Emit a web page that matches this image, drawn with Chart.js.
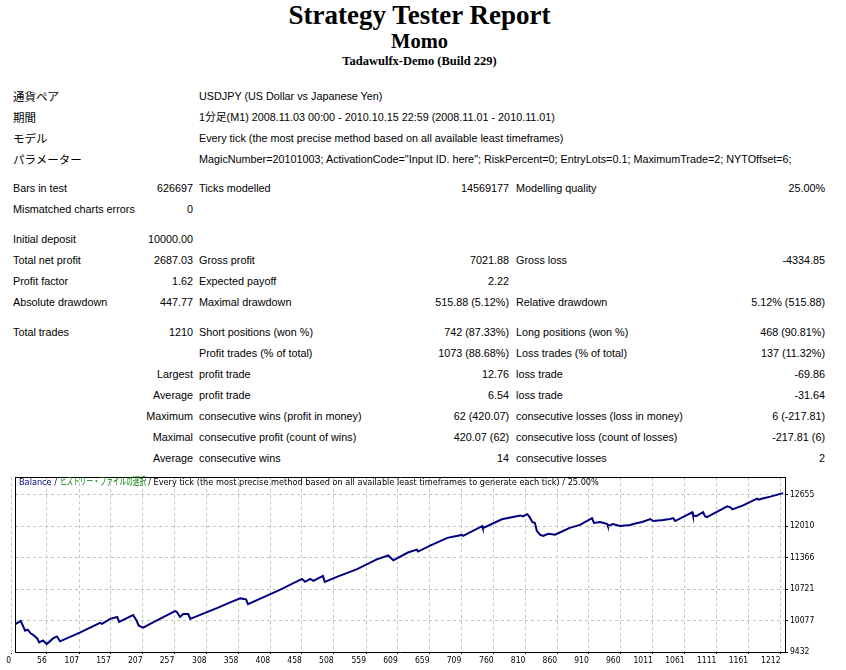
<!DOCTYPE html>
<html>
<head>
<meta charset="utf-8">
<title>Strategy Tester: Momo</title>
<script src="https://cdn.jsdelivr.net/npm/chart.js@4.4.1/dist/chart.umd.min.js"></script>
<style>
body { margin:0; background:#fff; width:846px; height:670px; overflow:hidden; position:relative;
  font-family:'Liberation Sans', Arial, 'Noto Sans CJK JP', sans-serif; font-size:10.8px; color:#000; }
.head { position:absolute; left:0; width:839px; text-align:center; font-family:'Liberation Serif', 'Times New Roman', serif; font-weight:bold; white-space:nowrap; }
table.report { position:absolute; left:13px; top:85.5px; border-collapse:collapse; table-layout:fixed; width:812px; }
table.report td { padding:0; height:21px; line-height:21px; white-space:nowrap; overflow:visible; }
table.report tr.gap td { line-height:0; font-size:0; }
td.r { text-align:right; }
td.l3 { padding-left:6px !important; }
td.l5 { padding-left:7px !important; }
.jp { font-family:'Noto Sans CJK JP', sans-serif; font-size:11.5px; }
#box { position:absolute; left:0; top:470px; width:846px; height:200px; }
#hdr { position:absolute; left:19px; top:475px; font-size:9.1px; line-height:12px; white-space:nowrap;
  font-family:'DejaVu Sans Condensed', 'Liberation Sans', sans-serif; color:#000; }
#hdr .bal { color:#000080; }
#hdr .hist { color:#008000; display:inline-block; transform-origin:0 50%; font-family:'Noto Sans CJK JP', sans-serif; font-size:10px; }
</style>
</head>
<body>

<div class="head" style="top:0; font-size:27px; line-height:30px;">Strategy Tester Report</div>
<div class="head" style="top:29px; font-size:20.5px; line-height:24px;">Momo</div>
<div class="head" style="top:53px; font-size:12.5px; line-height:16px;">Tadawulfx-Demo (Build 229)</div>

<table class="report">
<colgroup><col style="width:127px"><col style="width:53px"><col style="width:200px"><col style="width:116px"><col style="width:200px"><col style="width:116px"></colgroup>
<tr><td colspan="2" class="jp">通貨ペア</td><td colspan="4" class="l3">USDJPY (US Dollar vs Japanese Yen)</td></tr>
<tr><td colspan="2" class="jp">期間</td><td colspan="4" class="l3">1分足(M1) 2008.11.03 00:00 - 2010.10.15 22:59 (2008.11.01 - 2010.11.01)</td></tr>
<tr><td colspan="2" class="jp">モデル</td><td colspan="4" class="l3">Every tick (the most precise method based on all available least timeframes)</td></tr>
<tr><td colspan="2" class="jp">パラメーター</td><td colspan="4" class="l3">MagicNumber=20101003; ActivationCode="Input ID. here"; RiskPercent=0; EntryLots=0.1; MaximumTrade=2; NYTOffset=6;</td></tr>
<tr class="gap"><td colspan="6" style="height:8px"></td></tr>
<tr><td>Bars in test</td><td class="r">626697</td><td class="l3">Ticks modelled</td><td class="r">14569177</td><td class="l5">Modelling quality</td><td class="r">25.00%</td></tr>
<tr><td>Mismatched charts errors</td><td class="r">0</td><td></td><td></td><td></td><td></td></tr>
<tr class="gap"><td colspan="6" style="height:9px"></td></tr>
<tr><td>Initial deposit</td><td class="r">10000.00</td><td></td><td></td><td></td><td></td></tr>
<tr><td>Total net profit</td><td class="r">2687.03</td><td class="l3">Gross profit</td><td class="r">7021.88</td><td class="l5">Gross loss</td><td class="r">-4334.85</td></tr>
<tr><td>Profit factor</td><td class="r">1.62</td><td class="l3">Expected payoff</td><td class="r">2.22</td><td></td><td></td></tr>
<tr><td>Absolute drawdown</td><td class="r">447.77</td><td class="l3">Maximal drawdown</td><td class="r">515.88 (5.12%)</td><td class="l5">Relative drawdown</td><td class="r">5.12% (515.88)</td></tr>
<tr class="gap"><td colspan="6" style="height:9px"></td></tr>
<tr><td>Total trades</td><td class="r">1210</td><td class="l3">Short positions (won %)</td><td class="r">742 (87.33%)</td><td class="l5">Long positions (won %)</td><td class="r">468 (90.81%)</td></tr>
<tr><td colspan="2"></td><td class="l3">Profit trades (% of total)</td><td class="r">1073 (88.68%)</td><td class="l5">Loss trades (% of total)</td><td class="r">137 (11.32%)</td></tr>
<tr><td colspan="2" class="r">Largest</td><td class="l3">profit trade</td><td class="r">12.76</td><td class="l5">loss trade</td><td class="r">-69.86</td></tr>
<tr><td colspan="2" class="r">Average</td><td class="l3">profit trade</td><td class="r">6.54</td><td class="l5">loss trade</td><td class="r">-31.64</td></tr>
<tr><td colspan="2" class="r">Maximum</td><td class="l3">consecutive wins (profit in money)</td><td class="r">62 (420.07)</td><td class="l5">consecutive losses (loss in money)</td><td class="r">6 (-217.81)</td></tr>
<tr><td colspan="2" class="r">Maximal</td><td class="l3">consecutive profit (count of wins)</td><td class="r">420.07 (62)</td><td class="l5">consecutive loss (count of losses)</td><td class="r">-217.81 (6)</td></tr>
<tr><td colspan="2" class="r">Average</td><td class="l3">consecutive wins</td><td class="r">14</td><td class="l5">consecutive losses</td><td class="r">2</td></tr>
</table>

<div id="box"><canvas id="balanceChart" width="846" height="200"></canvas></div>
<div id="hdr"><span class="bal">Balance</span> / <span class="hist" id="hist">ヒストリー・ファイルの選択</span> / Every tick (the most precise method based on all available least timeframes to generate each tick) / 25.00%</div>

<script>
// trade number (as read against the axis labels) and balance after it
const tradeNo = [6, 15, 22, 26, 31, 34, 41, 44, 50, 56, 66, 72, 77, 108, 140, 143, 156, 167, 170, 192,
	197, 201, 208, 219, 258, 261, 266, 271, 279, 282, 286, 324, 345, 361, 370, 373, 424, 458, 463, 471,
	476, 491, 494, 513, 545, 576, 594, 602, 625, 639, 641, 660, 687, 710, 712, 742, 743, 773, 802, 806,
	813, 816, 821, 825, 828, 833, 838, 846, 857, 860, 880, 896, 915, 918, 928, 939, 940, 948, 959, 975,
	986, 994, 1007, 1011, 1027, 1038, 1043, 1046, 1073, 1074, 1079, 1090, 1093, 1096, 1128, 1133, 1136, 1153, 1175, 1177,
	1196, 1216];
const balance = [10000, 10070, 9870, 9890, 9810, 9790, 9710, 9630, 9670, 9595, 9710, 9750, 9650, 9830, 10030, 10010, 10110, 10150, 10050, 10190,
	10090, 9970, 9930, 10010, 10270, 10250, 10150, 10210, 10210, 10110, 10130, 10330, 10450, 10530, 10510, 10410, 10710, 10930, 10870, 10930,
	10890, 10990, 10870, 10970, 11130, 11330, 11410, 11310, 11470, 11530, 11490, 11610, 11770, 11830, 11810, 12010, 11970, 12150, 12230, 12210,
	12255, 12210, 12095, 12075, 11915, 11835, 11810, 11855, 11835, 11855, 11975, 12035, 12175, 12075, 12095, 12055, 12015, 12055, 12015, 12035,
	12075, 12095, 12155, 12115, 12135, 12155, 12175, 12115, 12295, 12235, 12215, 12295, 12215, 12195, 12415, 12395, 12355, 12435, 12575, 12555,
	12615, 12687.03];

const xTicks = [0, 56, 107, 157, 207, 257, 308, 358, 408, 458, 508, 559, 609, 659, 709, 760, 810, 860, 910, 960, 1011, 1061, 1111, 1161, 1212];
const yTicks = [9432, 10077, 10721, 11366, 12010, 12655];

// squeeze the japanese part of the header like the original narrow font
const hist = document.getElementById('hist');
const sx = 86 / hist.offsetWidth;
hist.style.transform = 'scaleX(' + sx + ')';
hist.style.marginRight = -(hist.offsetWidth * (1 - sx)) + 'px';

const tickFont = { family: "'DejaVu Sans Condensed', 'Liberation Sans', sans-serif", size: 8.5 };
const gridCol = '#c4c4c4';

var ctx = document.getElementById('balanceChart').getContext('2d');

var balanceChart = new Chart(ctx, {
	type: 'line',
	data: {
		datasets: [
			{
				label: 'Balance',
				data: tradeNo.map((t, i) => ({ x: t, y: balance[i] })),
				xAxisID: 'x',
				yAxisID: 'y',
				borderColor: '#000080',
				borderWidth: 2,
				pointRadius: 0,
				tension: 0,
				fill: false,
			},
		],
	},
	options: {
		responsive: false,
		animation: false,
		layout: { padding: { left: 15, top: 3, right: 0, bottom: 0 } },
		plugins: { legend: { display: false }, tooltip: { enabled: false } },
		scales: {
			x: {
				type: 'linear',
				position: 'bottom',
				min: 6,
				max: 1219,
				afterBuildTicks: (s) => { s.ticks = xTicks.map((v) => ({ value: v })); },
				afterFit: (s) => { s.height = 18; },
				grid: { color: gridCol, lineWidth: 1, tickLength: 2, tickColor: '#000' },
				border: { display: true, color: '#000', width: 1, dash: [3, 3] },
				ticks: { autoSkip: false, maxRotation: 0, align: 'end', padding: 2, color: '#000', font: tickFont, callback: (v) => String(v) },
			},
			y: {
				type: 'linear',
				position: 'right',
				min: 9432,
				max: 13015,
				afterBuildTicks: (s) => { s.ticks = yTicks.map((v) => ({ value: v })); },
				afterFit: (s) => { s.width = 61; },
				grid: { color: gridCol, lineWidth: 1, tickLength: 3, tickColor: '#000' },
				border: { display: true, color: '#000', width: 1, dash: [3, 3] },
				ticks: { padding: 2, color: '#000', font: tickFont, callback: (v) => String(v) },
			},
			xTop: {
				type: 'linear',
				axis: 'x',
				position: 'top',
				min: 6,
				max: 1219,
				ticks: { display: false },
				grid: { display: false, drawTicks: false },
				border: { display: true, color: '#000', width: 1 },
				afterFit: (s) => { s.height = 0; },
			},
			yLeft: {
				type: 'linear',
				axis: 'y',
				position: 'left',
				min: 9432,
				max: 13015,
				ticks: { display: false },
				grid: { display: false, drawTicks: false },
				border: { display: true, color: '#000', width: 1 },
				afterFit: (s) => { s.width = 0; },
			},
		},
	},
});
</script>
</body>
</html>
